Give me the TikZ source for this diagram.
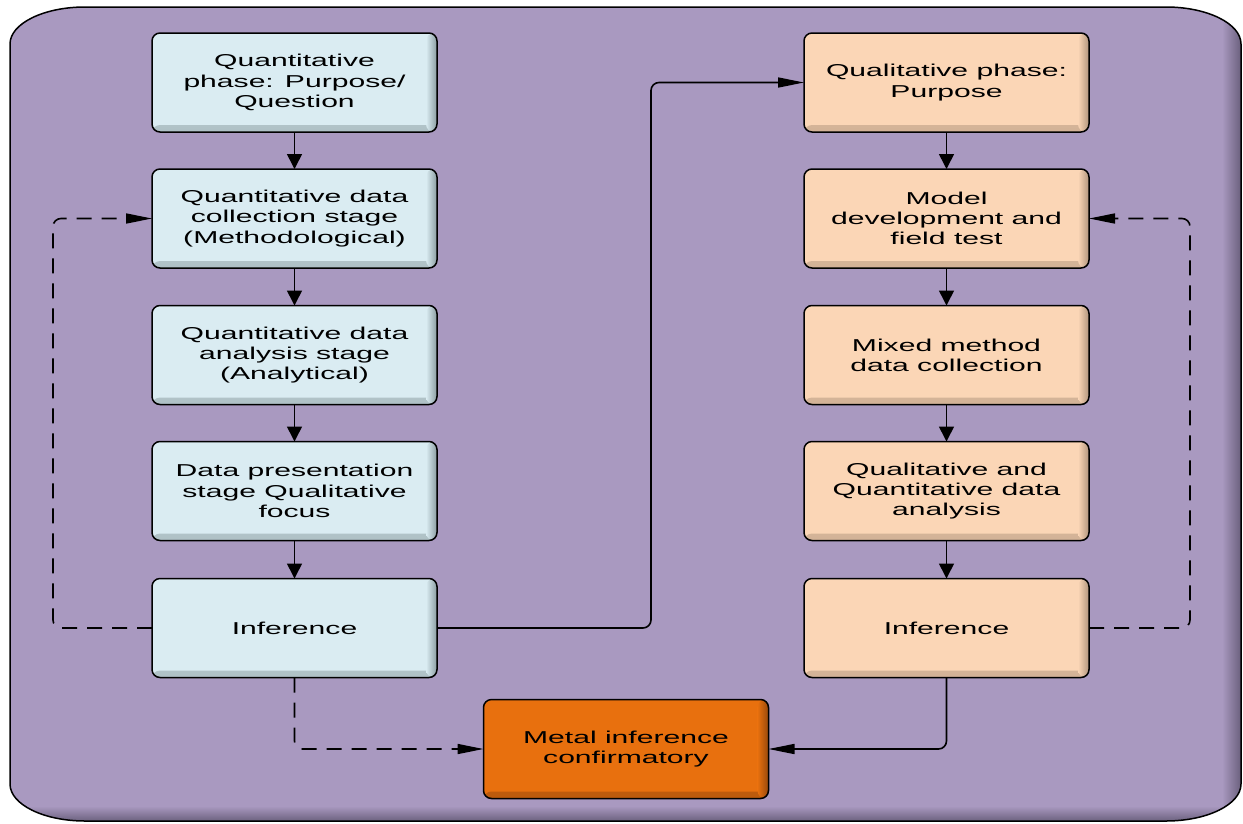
\documentclass[tikz,border=0pt]{standalone}
\usepackage{fontspec}
\newfontfamily\boxfont[FakeStretch=1.75]{Liberation Sans}
\usetikzlibrary{arrows.meta}

\definecolor{bgpurple}{RGB}{169,153,192}
\definecolor{bgedge}{RGB}{100,90,118}
\definecolor{qnfill}{RGB}{218,236,242}
\definecolor{qnedge}{RGB}{138,156,160}
\definecolor{qlfill}{RGB}{251,214,182}
\definecolor{qledge}{RGB}{176,148,124}
\definecolor{mfill}{RGB}{232,112,14}
\definecolor{medge}{RGB}{150,72,12}

\tikzset{
  stepbox/.style 2 args={rectangle, rounded corners=8pt,
    minimum width=285pt, minimum height=99pt, inner sep=0pt, outer sep=0pt,
    draw=black, line width=1.5pt, fill=#1, align=center,
    font=\boxfont\fontsize{17.2}{20.3}\selectfont,
    path picture={
      \shade[top color=#1, bottom color=#2!55!#1]
        ([yshift=7pt]path picture bounding box.south west) rectangle (path picture bounding box.south east);
      \shade[left color=#1, right color=#2]
        ([xshift=-11pt]path picture bounding box.north east) rectangle (path picture bounding box.south east);
    }},
  quanbox/.style={stepbox={qnfill}{qnedge}},
  qualbox/.style={stepbox={qlfill}{qledge}},
  metabox/.style={stepbox={mfill}{medge}},
  link/.style={line width=1.6pt, rounded corners=8pt},
  vtip/.style={-{Triangle[length=15pt,width=15pt]}},
  htip/.style={-{Triangle[length=26pt,width=10pt]}},
  loop/.style={dash pattern=on 15pt off 10pt},
}

\begin{document}
\begin{tikzpicture}[x=1pt,y=-1pt]
\useasboundingbox (0,0) rectangle (1243,823);

% purple backdrop with shaded right and bottom edges
\def\backdrop{(85,7) -- (1166,7) .. controls (1207.4,7) and (1241,23.6) .. (1241,44)
  -- (1241,784) .. controls (1241,804.4) and (1207.4,821) .. (1166,821)
  -- (85,821) .. controls (43.6,821) and (10,804.4) .. (10,784)
  -- (10,44) .. controls (10,23.6) and (43.6,7) .. (85,7) -- cycle}
\fill[bgpurple] \backdrop;
\begin{scope}
  \clip \backdrop;
  \shade[top color=bgpurple, bottom color=bgedge] (0,806) rectangle (1243,823);
  \shade[left color=bgpurple, right color=bgedge] (1222,0) rectangle (1243,823);
\end{scope}
\draw[line width=1.5pt] \backdrop;

% quantitative column
\node[quanbox] (L1) at (294.5,82.5) {Quantitative\\phase: Purpose/\\Question};
\node[quanbox] (L2) at (294.5,218.5) {Quantitative data\\collection stage\\(Methodological)};
\node[quanbox] (L3) at (294.5,355) {Quantitative data\\analysis stage\\(Analytical)};
\node[quanbox] (L4) at (294.5,491) {Data presentation\\stage Qualitative\\focus};
\node[quanbox] (L5) at (294.5,628) {Inference};

% qualitative column
\node[qualbox] (R1) at (946.5,82.5) {Qualitative phase:\\Purpose};
\node[qualbox] (R2) at (946.5,218.5) {Model\\development and\\field test};
\node[qualbox] (R3) at (946.5,355) {Mixed method\\data collection};
\node[qualbox] (R4) at (946.5,491) {Qualitative and\\Quantitative data\\analysis};
\node[qualbox] (R5) at (946.5,628) {Inference};

% meta inference
\node[metabox] (M) at (626,749) {Metal inference\\confirmatory};

% turning points of the connectors
\coordinate (lx) at (53,0);
\coordinate (mx) at (651,0);
\coordinate (rx) at (1190,0);

% downward flow within each column
\foreach \a/\b in {L1/L2,L2/L3,L3/L4,L4/L5,R1/R2,R2/R3,R3/R4,R4/R5}
  \draw[link,vtip] (\a.south) -- (\b.north);

% feedback loops
\draw[link,loop,htip] (L5.west) -- (L5.west -| lx) |- (L2.west);
\draw[link,loop,htip] (R5.east) -- (R5.east -| rx) |- (R2.east);

% quantitative inference leads to the qualitative phase
\draw[link,htip] (L5.east) -- (L5.east -| mx) |- (R1.west);

% both inferences feed the meta inference
\draw[link,loop,htip] (L5.south) |- (M.west);
\draw[link,htip] (R5.south) |- (M.east);
\end{tikzpicture}
\end{document}
